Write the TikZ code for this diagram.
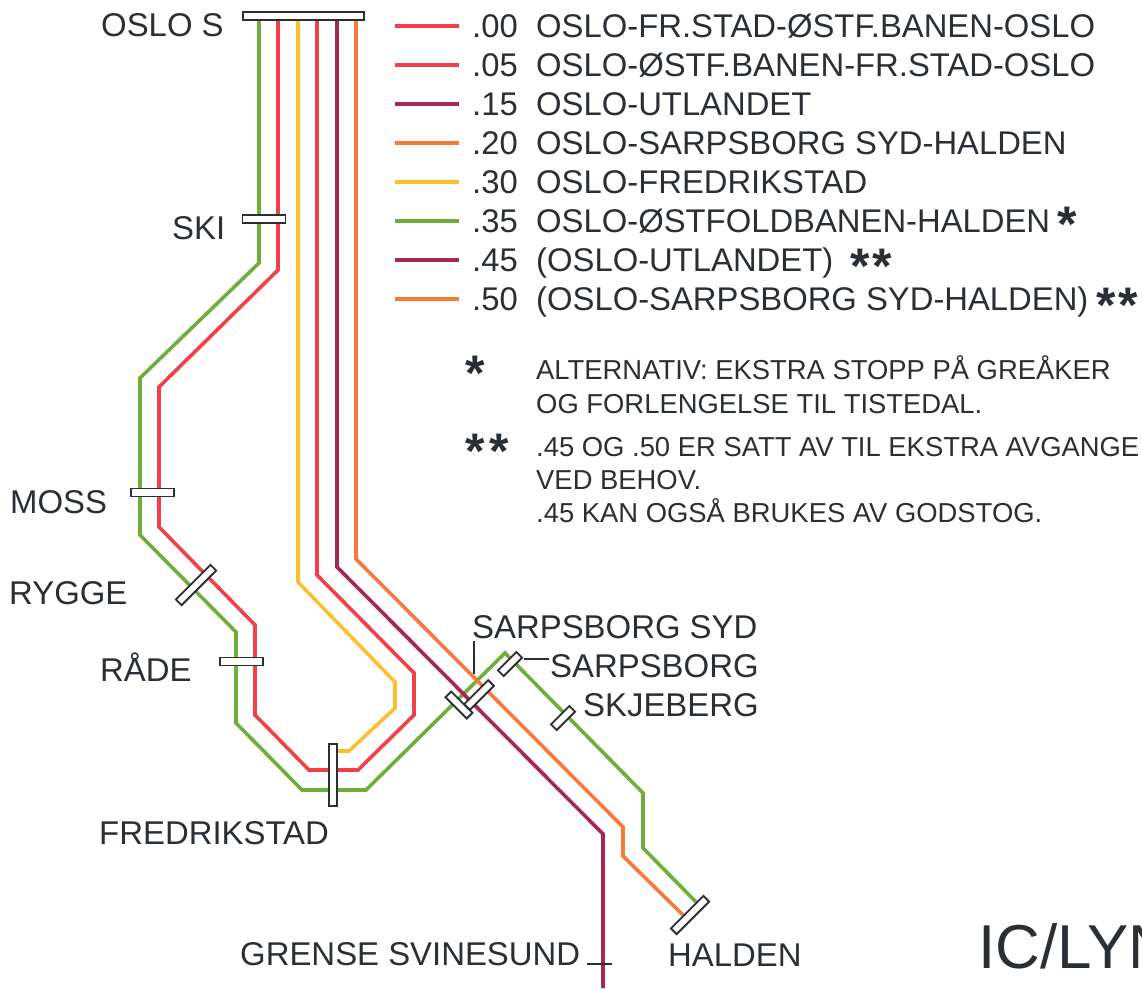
\documentclass[tikz,border=0pt]{standalone}
\usepackage{fontspec}
\setmainfont{Liberation Sans}
\definecolor{lgreen}{HTML}{6FAE3A}
\definecolor{lred}{HTML}{F2404B}
\definecolor{lyellow}{HTML}{FBC02D}
\definecolor{lpurple}{HTML}{A6274F}
\definecolor{lorange}{HTML}{F47B3A}
\definecolor{ink}{HTML}{2A2E35}
\tikzset{
  route/.style={line width=3.6pt,line join=miter},
  stationbox/.style={draw=ink,fill=white,line width=1.9pt,rectangle,inner sep=0pt,minimum height=8pt},
  legline/.style={line width=3.6pt},
  name label/.style={anchor=base west,inner sep=0pt,text=ink,font=\fontsize{32.9}{34}\selectfont},
  leg label/.style={anchor=base west,inner sep=0pt,text=ink,font=\fontsize{32.8}{34}\selectfont},
  note label/.style={anchor=base west,inner sep=0pt,text=ink,font=\fontsize{27.4}{30}\selectfont},
  star label/.style={anchor=center,inner sep=0pt,text=ink,font=\bfseries\fontsize{50}{50}\selectfont},
  thin leader/.style={draw=ink,line width=1.5pt}
}
\begin{document}
\begin{tikzpicture}[x=1pt,y=-1pt]
\useasboundingbox (0,0) rectangle (1142,988);
\clip (0,0) rectangle (1142,988);
% routes
\draw[route,lgreen] (259,20)--(259,263)--(140,378)--(140,535)--(236,632)--(236,723)--(302,790)--(366,790)--(505,653)--(643,793)--(643,848)--(696,902);
\draw[route,lred] (278,20)--(278,270)--(159,387)--(159,527)--(255,625)--(255,715)--(309,770)--(358,770)--(414,715)--(414,673)--(317,575)--(317,20);
\draw[route,lyellow] (298,20)--(298,582)--(395,682)--(395,708)--(349,751)--(338,751);
\draw[route,lorange] (356,20)--(356,559)--(623,827)--(623,856)--(683,915);
\draw[route,lpurple] (337,20)--(337,567)--(603,834)--(603,988);
% stations
\node[stationbox,minimum width=121pt] (oslo) at (303.5,16) {};
\node[stationbox,minimum width=43pt] (ski) at (264,219) {};
\node[stationbox,minimum width=43pt] (moss) at (152.5,492.5) {};
\node[stationbox,minimum width=49pt,rotate=45] (rygge) at (196,585) {};
\node[stationbox,minimum width=43pt] (rade) at (241.5,661.5) {};
\node[stationbox,minimum width=62pt,rotate=90] (fred) at (333,775) {};
\node[stationbox,minimum width=30pt,rotate=-45] (syda) at (459,705) {};
\node[stationbox,minimum width=34pt,rotate=45] (sydb) at (479,695) {};
\node[stationbox,minimum width=26pt,rotate=45] (sarp) at (510,664) {};
\node[stationbox,minimum width=26pt,rotate=45] (skje) at (563,718) {};
\node[stationbox,minimum width=46pt,rotate=45] (hald) at (690,915) {};
\coordinate (grL) at (587,964);
\coordinate (grR) at (612,964);
\draw[thin leader] (grL)--(grR);
\coordinate (sydlab) at (474,641);
\coordinate (sydend) at (474,674);
\draw[thin leader] (sydlab)--(sydend);
\coordinate (sarplab) at (549,659);
\coordinate (sarpend) at (524,659);
\draw[thin leader] (sarplab)--(sarpend);
% station names
\node[name label] (tOslo) at (101,36) {OSLO S};
\node[name label] (tSki) at (172,239) {SKI};
\node[name label] (tMoss) at (10,513) {MOSS};
\node[name label] (tRygge) at (9,604) {RYGGE};
\node[name label] (tRade) at (100,681) {RÅDE};
\node[name label] (tFred) at (99,844) {FREDRIKSTAD};
\node[name label] (tSyd) at (472,638) {SARPSBORG SYD};
\node[name label] (tSarp) at (550,677) {SARPSBORG};
\node[name label] (tSkje) at (583,716) {SKJEBERG};
\node[name label] (tGrense) at (240,965) {GRENSE SVINESUND};
\node[name label] (tHalden) at (668,966) {HALDEN};
% legend
\foreach \yy/\cc/\nn/\tt in {
 26/lred/.00/OSLO-FR.STAD-ØSTF.BANEN-OSLO,
 65/lred/.05/OSLO-ØSTF.BANEN-FR.STAD-OSLO,
 104/lpurple/.15/OSLO-UTLANDET,
 143/lorange/.20/OSLO-SARPSBORG SYD-HALDEN,
 182/lyellow/.30/OSLO-FREDRIKSTAD,
 221/lgreen/.35/OSLO-ØSTFOLDBANEN-HALDEN,
 260/lpurple/.45/(OSLO-UTLANDET),
 299/lorange/.50/(OSLO-SARPSBORG SYD-HALDEN)}{
  \coordinate (la\yy) at (395,\yy);
  \coordinate (lb\yy) at (459,\yy);
  \draw[legline,\cc] (la\yy)--(lb\yy);
  \node[leg label] (c\yy) at (472,\yy+11) {\nn};
  \node[leg label] (d\yy) at (536,\yy+11) {\tt};
}
\node[star label] (s1) at (1067,224) {*};
\node[star label] (s2a) at (860,266) {*};
\node[star label] (s2b) at (882,266) {*};
\node[star label] (s3a) at (1106,305) {*};
\node[star label] (s3b) at (1128,305) {*};
\node[star label] (s4) at (475,373) {*};
\node[star label] (s5a) at (475,451) {*};
\node[star label] (s5b) at (499,451) {*};
\node[note label] (n1) at (536,379) {ALTERNATIV: EKSTRA STOPP PÅ GREÅKER};
\node[note label] (n2) at (536,413) {OG FORLENGELSE TIL TISTEDAL.};
\node[note label] (n3) at (536,456) {.45 OG .50 ER SATT AV TIL EKSTRA AVGANGE};
\node[note label] (n4) at (536,489) {VED BEHOV.};
\node[note label] (n5) at (536,522) {.45 KAN OGSÅ BRUKES AV GODSTOG.};
\node[anchor=base west,inner sep=0pt,text=ink,font=\fontsize{62}{62}\selectfont] (title) at (978,968) {IC/LYN};
\end{tikzpicture}
\end{document}
